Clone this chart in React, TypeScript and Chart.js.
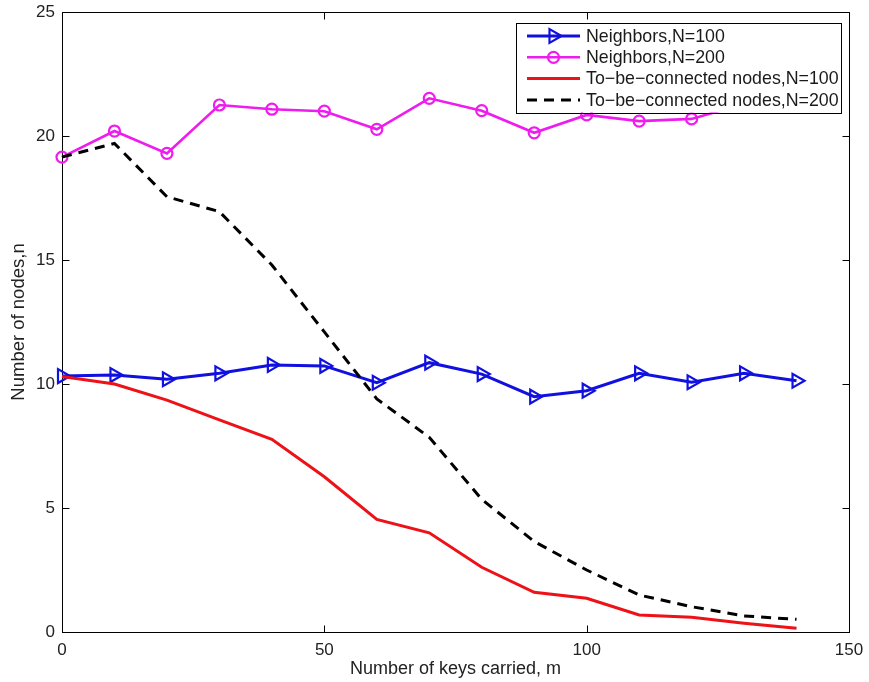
import React, { useEffect, useRef } from "react";
import { Chart, registerables } from "chart.js";

Chart.register(...registerables);

// Number of keys carried per node
const keysCarried = [0, 10, 20, 30, 40, 50, 60, 70, 80, 90, 100, 110, 120, 130, 140];

// Average number of neighbours
const neighborsN100 = [10.32, 10.36, 10.19, 10.43, 10.77, 10.73, 10.05, 10.86, 10.4, 9.49, 9.73, 10.43, 10.07, 10.43, 10.13];
const neighborsN200 = [19.15, 20.2, 19.3, 21.25, 21.08, 21.0, 20.27, 21.52, 21.02, 20.13, 20.85, 20.6, 20.69, 21.3, 21.45];

// Nodes still waiting to be connected
const pendingN100 = [10.3, 10.0, 9.35, 8.55, 7.77, 6.26, 4.54, 4.0, 2.61, 1.6, 1.36, 0.69, 0.59, 0.35, 0.15];
const pendingN200 = [19.15, 19.7, 17.55, 16.95, 14.8, 12.1, 9.4, 7.85, 5.35, 3.65, 2.5, 1.49, 1.02, 0.65, 0.51];

const xTicks = [0, 50, 100, 150];
const yTicks = [0, 5, 10, 15, 20, 25];

const seriesLabels = [
  "Neighbors,N=100",
  "Neighbors,N=200",
  "To\u2212be\u2212connected nodes,N=100",
  "To\u2212be\u2212connected nodes,N=200",
];

const FONT = "'Liberation Sans', Arial, Helvetica, sans-serif";
const BLUE = "#1010e0";
const MAGENTA = "#ee1cee";
const RED = "#ec1218";
const BLACK = "#000000";

const toPoints = (ys: number[]) => keysCarried.map((x, i) => ({ x, y: ys[i] }));

type Marker = "triangle" | "circle" | "none";

function drawMarker(ctx: CanvasRenderingContext2D, kind: Marker, x: number, y: number, color: string) {
  if (kind === "none") return;
  ctx.save();
  ctx.strokeStyle = color;
  ctx.lineWidth = 2.2;
  ctx.beginPath();
  if (kind === "circle") {
    ctx.arc(x, y, 5.5, 0, Math.PI * 2);
  } else {
    const r = 8;
    ctx.moveTo(x + r, y);
    ctx.lineTo(x - r / 2, y - (r * Math.sqrt(3)) / 2);
    ctx.lineTo(x - r / 2, y + (r * Math.sqrt(3)) / 2);
    ctx.closePath();
  }
  ctx.stroke();
  ctx.restore();
}

// Boxed axes with inward tick marks on all four sides
const framePlugin = {
  id: "boxFrame",
  beforeDatasetsDraw(chart: any) {
    const { ctx, chartArea: a, scales } = chart;
    ctx.save();
    ctx.strokeStyle = "#000";
    ctx.lineWidth = 1;
    const L = Math.round(a.left) + 0.5;
    const R = Math.round(a.right) + 0.5;
    const T = Math.round(a.top) + 0.5;
    const B = Math.round(a.bottom) + 0.5;
    ctx.strokeRect(L, T, R - L, B - T);
    const len = 7;
    ctx.beginPath();
    for (const v of xTicks) {
      const px = Math.round(scales.x.getPixelForValue(v)) + 0.5;
      ctx.moveTo(px, B);
      ctx.lineTo(px, B - len);
      ctx.moveTo(px, T);
      ctx.lineTo(px, T + len);
    }
    for (const v of yTicks) {
      const py = Math.round(scales.y.getPixelForValue(v)) + 0.5;
      ctx.moveTo(L, py);
      ctx.lineTo(L + len, py);
      ctx.moveTo(R, py);
      ctx.lineTo(R - len, py);
    }
    ctx.stroke();
    ctx.restore();
  },
};

// Legend box drawn inside the plot, on top of the data
const legendPlugin = {
  id: "insideLegend",
  afterDatasetsDraw(chart: any) {
    const { ctx, chartArea: a } = chart;
    const boxRight = a.right - 8;
    const boxTop = a.top + 10.5;
    const boxW = 325;
    const boxH = 90;
    const boxLeft = boxRight - boxW;
    ctx.save();
    ctx.fillStyle = "#fff";
    ctx.fillRect(boxLeft, boxTop, boxW, boxH);
    ctx.strokeStyle = "#000";
    ctx.lineWidth = 1;
    ctx.strokeRect(Math.round(boxLeft) + 0.5, Math.round(boxTop) + 0.5, boxW, boxH);

    const markers: Marker[] = ["triangle", "circle", "none", "none"];
    chart.data.datasets.forEach((ds: any, i: number) => {
      const y = boxTop + 13.5 + i * 21.3;
      const x0 = boxLeft + 11;
      const x1 = boxLeft + 64;
      ctx.save();
      ctx.strokeStyle = ds.borderColor;
      ctx.lineWidth = ds.borderWidth;
      ctx.setLineDash(ds.borderDash || []);
      ctx.beginPath();
      ctx.moveTo(x0, y);
      ctx.lineTo(x1, y);
      ctx.stroke();
      ctx.restore();
      drawMarker(ctx, markers[i], (x0 + x1) / 2, y, ds.borderColor);
      ctx.fillStyle = "#1a1a1a";
      ctx.font = `17.8px ${FONT}`;
      ctx.textAlign = "left";
      ctx.textBaseline = "middle";
      ctx.fillText(seriesLabels[i], boxLeft + 70, y + 1);
    });
    ctx.restore();
  },
};

export default function App() {
  const canvasRef = useRef<HTMLCanvasElement | null>(null);

  useEffect(() => {
    document.body.style.margin = "0";
    const canvas = canvasRef.current;
    if (!canvas) return;

    const chart = new Chart(canvas, {
      type: "line",
      data: {
        datasets: [
          {
            label: seriesLabels[0],
            data: toPoints(neighborsN100),
            borderColor: BLUE,
            backgroundColor: "transparent",
            borderWidth: 3,
            pointStyle: "triangle",
            rotation: 90,
            pointRadius: 8,
            pointBorderWidth: 2.2,
            pointBorderColor: BLUE,
            pointBackgroundColor: "transparent",
            clip: false,
            order: 4,
          },
          {
            label: seriesLabels[1],
            data: toPoints(neighborsN200),
            borderColor: MAGENTA,
            backgroundColor: "transparent",
            borderWidth: 2.6,
            pointStyle: "circle",
            pointRadius: 5.5,
            pointBorderWidth: 2.2,
            pointBorderColor: MAGENTA,
            pointBackgroundColor: "transparent",
            clip: false,
            order: 3,
          },
          {
            label: seriesLabels[2],
            data: toPoints(pendingN100),
            borderColor: RED,
            backgroundColor: "transparent",
            borderWidth: 3,
            pointRadius: 0,
            clip: false,
            order: 2,
          },
          {
            label: seriesLabels[3],
            data: toPoints(pendingN200),
            borderColor: BLACK,
            backgroundColor: "transparent",
            borderWidth: 3,
            borderDash: [10, 7],
            pointRadius: 0,
            clip: false,
            order: 1,
          },
        ],
      },
      options: {
        responsive: false,
        animation: false,
        devicePixelRatio: 1,
        events: [],
        layout: { padding: { top: 12, right: 20, left: 0, bottom: 0 } },
        plugins: {
          legend: { display: false },
          tooltip: { enabled: false },
        },
        elements: { line: { tension: 0 } },
        scales: {
          x: {
            type: "linear",
            min: 0,
            max: 150,
            grid: { display: false, drawTicks: false },
            border: { display: false },
            afterBuildTicks: (s: any) => {
              s.ticks = xTicks.map((v) => ({ value: v }));
            },
            afterFit: (s: any) => {
              s.height = 50;
              s.paddingLeft = 0;
              s.paddingRight = 0;
            },
            ticks: {
              autoSkip: false,
              maxRotation: 0,
              padding: 8,
              color: "#222",
              font: { family: FONT, size: 17 },
            },
            title: {
              display: true,
              text: "Number of keys carried, m",
              color: "#222",
              font: { family: FONT, size: 18 },
              padding: { top: 0, bottom: 2 },
            },
          },
          y: {
            type: "linear",
            min: 0,
            max: 25,
            grid: { display: false, drawTicks: false },
            border: { display: false },
            afterBuildTicks: (s: any) => {
              s.ticks = yTicks.map((v) => ({ value: v }));
            },
            afterFit: (s: any) => {
              s.width = 62;
              s.paddingTop = 0;
              s.paddingBottom = 0;
            },
            ticks: {
              autoSkip: false,
              padding: 7,
              color: "#222",
              font: { family: FONT, size: 17 },
            },
            title: {
              display: true,
              text: "Number of nodes,n",
              color: "#222",
              font: { family: FONT, size: 18.5 },
              padding: { top: 8, bottom: 0 },
            },
          },
        },
      },
      plugins: [framePlugin, legendPlugin],
    });

    return () => chart.destroy();
  }, []);

  return (
    <div style={{ width: 869, height: 682, background: "#fff" }}>
      <canvas ref={canvasRef} width={869} height={682} style={{ display: "block" }} />
    </div>
  );
}
